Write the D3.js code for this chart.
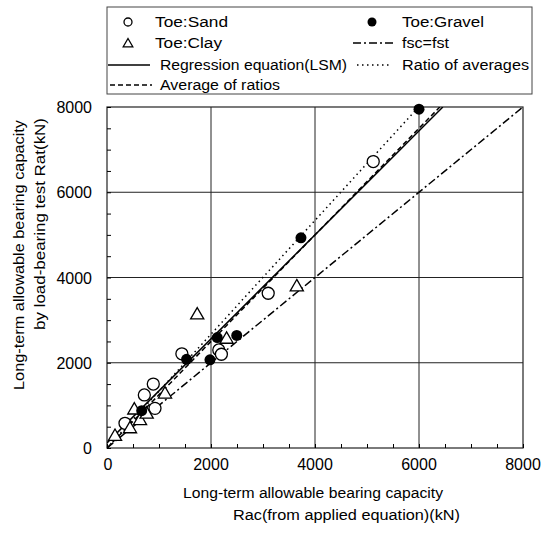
<!DOCTYPE html>
<html>
<head>
<meta charset="utf-8">
<script src="https://cdn.jsdelivr.net/npm/d3@7"></script>
<style>
  body { margin: 0; background: #fff; }
  svg { font-family: "Liberation Sans", Arial, sans-serif; }
</style>
</head>
<body>
<svg id="chart" width="547" height="534"></svg>
<script>
// Data (kN)
const sand = [
  [346, 580], [718, 1245], [890, 1500], [923, 930],
  [1440, 2210], [2150, 2300], [2200, 2200], [3100, 3630], [5120, 6720]
];
const clay = [
  [154, 290], [442, 470], [525, 910], [635, 660], [763, 815],
  [1115, 1285], [1735, 3140], [2300, 2570], [3650, 3800]
];
const gravel = [
  [667, 875], [1530, 2080], [1980, 2070], [2120, 2590],
  [2495, 2640], [3730, 4930], [6000, 7950]
];
// fitted lines: y = slope * x + intercept
const fitLines = [
  { name: "fsc=fst", slope: 1.0, intercept: 0, dash: "8,3,2,3" },
  { name: "Regression equation(LSM)", slope: 1.22, intercept: 120, dash: null },
  { name: "Ratio of averages", slope: 1.335, intercept: 0, dash: "1.5,3.5" },
  { name: "Average of ratios", slope: 1.25, intercept: 0, dash: "5,3" }
];
const ticks = [0, 2000, 4000, 6000, 8000];
const minorTicks = d3.range(0, 8001, 500);

const svg = d3.select("#chart");
const x = d3.scaleLinear().domain([0, 8000]).range([107, 523]);
const y = d3.scaleLinear().domain([0, 8000]).range([448, 107]);

// text in the scan is a bit wide, so stretch it to the measured length
function wideText(sel, str, len) {
  return sel.text(str).attr("textLength", len).attr("lengthAdjust", "spacingAndGlyphs");
}

// grid
const grid = svg.append("g").attr("stroke", "#222").attr("stroke-width", 1);
grid.selectAll("line.gx").data(ticks.slice(1, -1)).join("line")
  .attr("class", "gx")
  .attr("x1", d => x(d)).attr("x2", d => x(d))
  .attr("y1", y(0)).attr("y2", y(8000));
grid.selectAll("line.gy").data(ticks.slice(1, -1)).join("line")
  .attr("class", "gy")
  .attr("y1", d => y(d)).attr("y2", d => y(d))
  .attr("x1", x(0)).attr("x2", x(8000));

// frame
svg.append("rect")
  .attr("x", x(0)).attr("y", y(8000))
  .attr("width", x(8000) - x(0)).attr("height", y(0) - y(8000))
  .attr("fill", "none").attr("stroke", "#222").attr("stroke-width", 1.2);

// axes (minor ticks inward)
const xAxis = d3.axisBottom(x).tickValues(minorTicks).tickSizeInner(-4).tickSizeOuter(0).tickFormat("");
svg.append("g").attr("transform", `translate(0,${y(0)})`).call(xAxis)
  .call(g => g.select(".domain").remove());
const yAxis = d3.axisLeft(y).tickValues(minorTicks).tickSizeInner(-4).tickSizeOuter(0).tickFormat("");
svg.append("g").attr("transform", `translate(${x(0)},0)`).call(yAxis)
  .call(g => g.select(".domain").remove());

// tick labels
svg.append("g").selectAll("text").data(ticks).join("text")
  .attr("x", d => x(d) + (d === 0 ? 1 : 0)).attr("y", 470)
  .attr("text-anchor", "middle").attr("font-size", 16)
  .text(d => d);
svg.append("g").selectAll("text").data(ticks).join("text")
  .attr("x", 92).attr("y", d => y(d) + 6)
  .attr("text-anchor", "end").attr("font-size", 16)
  .text(d => d);

// axis titles
wideText(svg.append("text").attr("x", 183).attr("y", 498).attr("font-size", 14),
  "Long-term allowable bearing capacity", 260);
wideText(svg.append("text").attr("x", 233).attr("y", 520).attr("font-size", 14),
  "Rac(from applied equation)(kN)", 227);
wideText(svg.append("text").attr("transform", "translate(24,390) rotate(-90)").attr("font-size", 14),
  "Long-term allowable bearing capacity", 270);
wideText(svg.append("text").attr("transform", "translate(45,330) rotate(-90)").attr("font-size", 14),
  "by load-bearing test Rat(kN)", 212);

// lines clipped to plot
svg.append("clipPath").attr("id", "plot-clip").append("rect")
  .attr("x", x(0)).attr("y", y(8000))
  .attr("width", x(8000) - x(0)).attr("height", y(0) - y(8000));
const lineG = svg.append("g").attr("clip-path", "url(#plot-clip)");
lineG.selectAll("line").data(fitLines).join("line")
  .attr("x1", x(0)).attr("y1", d => y(d.intercept))
  .attr("x2", d => x((8000 - d.intercept) / d.slope)).attr("y2", y(8000))
  .attr("stroke", "#000").attr("stroke-width", 1.5)
  .attr("stroke-dasharray", d => d.dash);

// markers
const tri = d3.symbol().type(d3.symbolTriangle).size(75);
const ptG = svg.append("g");
ptG.selectAll("circle.sand").data(sand).join("circle")
  .attr("class", "sand")
  .attr("cx", d => x(d[0])).attr("cy", d => y(d[1])).attr("r", 6)
  .attr("fill", "#fff").attr("stroke", "#000").attr("stroke-width", 1.3);
ptG.selectAll("path.clay").data(clay).join("path")
  .attr("class", "clay")
  .attr("transform", d => `translate(${x(d[0])},${y(d[1]) + 1})`)
  .attr("d", tri)
  .attr("fill", "#fff").attr("stroke", "#000").attr("stroke-width", 1.3);
ptG.selectAll("circle.gravel").data(gravel).join("circle")
  .attr("class", "gravel")
  .attr("cx", d => x(d[0])).attr("cy", d => y(d[1])).attr("r", 5.5)
  .attr("fill", "#000");

// legend
const leg = svg.append("g");
leg.append("rect").attr("x", 107).attr("y", 7).attr("width", 425).attr("height", 87)
  .attr("fill", "#fff").attr("stroke", "#444").attr("stroke-width", 1);
const legText = (tx, ty, s, len) => wideText(
  leg.append("text").attr("x", tx).attr("y", ty + 5).attr("font-size", 14), s, len);
leg.append("circle").attr("cx", 128).attr("cy", 22).attr("r", 4)
  .attr("fill", "#fff").attr("stroke", "#000").attr("stroke-width", 1.3);
legText(155, 22, "Toe:Sand", 73);
leg.append("circle").attr("cx", 372).attr("cy", 22).attr("r", 4.5).attr("fill", "#000");
legText(402, 22, "Toe:Gravel", 82);
leg.append("path").attr("transform", "translate(128,44)")
  .attr("d", d3.symbol().type(d3.symbolTriangle).size(40))
  .attr("fill", "#fff").attr("stroke", "#000").attr("stroke-width", 1.3);
legText(155, 43, "Toe:Clay", 67);
const legLines = [
  { line: fitLines[0], x1: 353, x2: 393, ty: 43, tx: 402, len: 47 },
  { line: fitLines[1], x1: 108, x2: 150, ty: 65, tx: 160, len: 187 },
  { line: fitLines[2], x1: 357, x2: 390, ty: 65, tx: 402, len: 127 },
  { line: fitLines[3], x1: 110, x2: 152, ty: 85, tx: 160, len: 120 }
];
legLines.forEach(l => {
  leg.append("line").attr("x1", l.x1).attr("x2", l.x2).attr("y1", l.ty).attr("y2", l.ty)
    .attr("stroke", "#000").attr("stroke-width", 1.3)
    .attr("stroke-dasharray", l.line.dash);
  legText(l.tx, l.ty, l.line.name, l.len);
});
</script>
</body>
</html>
